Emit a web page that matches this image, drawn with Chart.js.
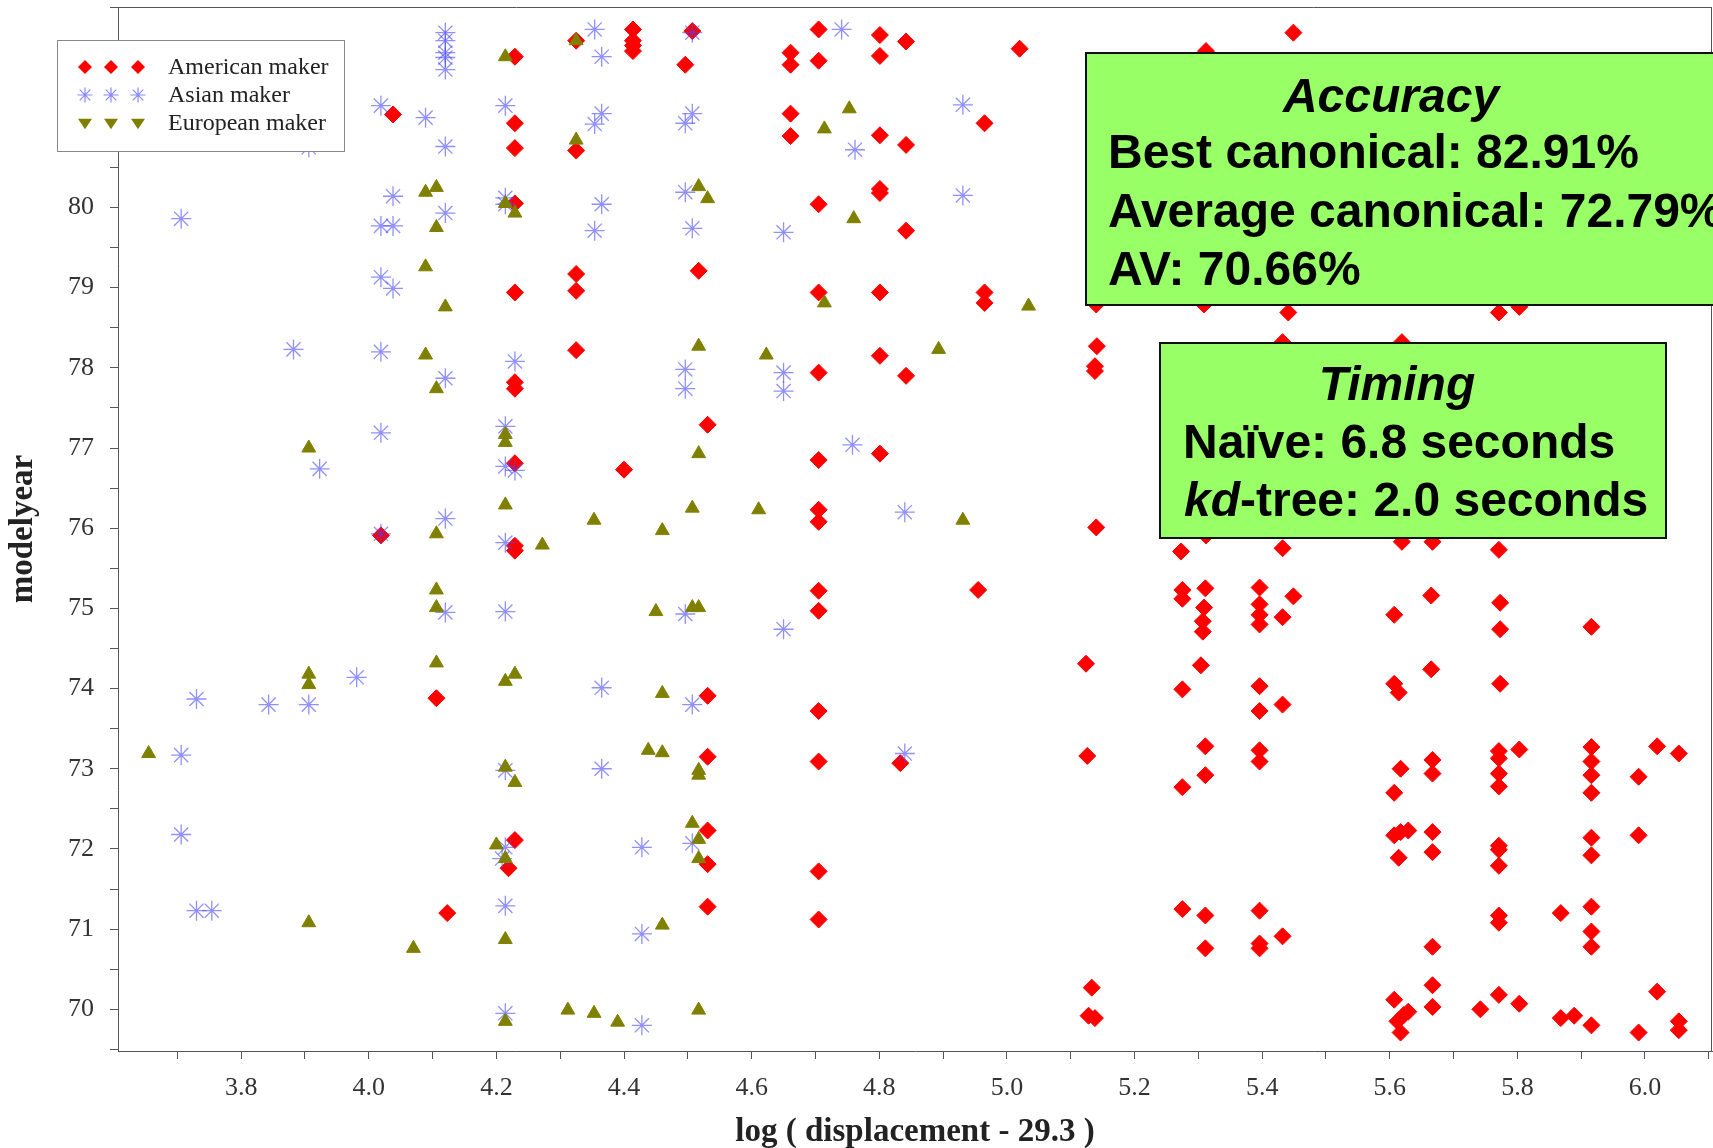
<!DOCTYPE html>
<html>
<head>
<meta charset="utf-8">
<title>modelyear vs log displacement</title>
<script src="https://cdn.jsdelivr.net/npm/chart.js"></script>
<style>
  html, body { margin: 0; padding: 0; background: #fff; }
  #wrap { width: 1713px; height: 1148px; }
</style>
</head>
<body>
<div id="wrap"><canvas id="scatter" width="1713" height="1148"></canvas></div>
<script>
// points: [log(displacement - 29.3), model year (jittered)]
var american = [
  [4.414, 82.22], [4.414, 82.08], [4.414, 82.02], [4.414, 81.95], [4.325, 82.08],
  [4.229, 81.88], [4.229, 81.05], [4.229, 80.74], [4.229, 80.05], [4.038, 81.16],
  [4.325, 80.71], [4.507, 82.2], [4.496, 81.78], [4.661, 81.93], [4.661, 81.78],
  [4.661, 81.17], [4.661, 80.89], [4.705, 82.22], [4.705, 81.83], [4.801, 82.15],
  [4.801, 81.89], [4.842, 82.07], [4.801, 80.90], [4.842, 80.78], [4.965, 81.05],
  [5.020, 81.98], [5.449, 82.18], [4.705, 80.04], [4.801, 80.23], [4.801, 80.18],
  [4.842, 79.71], [4.705, 78.94], [4.801, 78.94], [4.965, 78.94], [4.965, 78.81],
  [4.325, 79.17], [4.325, 78.96], [4.229, 78.94], [4.517, 79.21], [4.325, 78.22],
  [4.229, 77.82], [4.229, 77.74], [4.229, 76.81], [4.531, 77.29], [4.400, 76.73],
  [4.705, 77.94], [4.801, 78.15], [4.842, 77.90], [4.801, 76.93], [4.705, 76.85],
  [4.705, 76.23], [4.705, 76.08], [4.019, 75.91], [4.229, 75.78], [4.229, 75.72],
  [4.705, 75.22], [4.705, 74.97], [4.955, 75.23], [4.106, 73.88], [4.531, 73.91],
  [4.705, 73.72], [4.531, 73.15], [4.705, 73.09], [4.833, 73.07], [4.531, 72.23],
  [4.229, 72.11], [4.219, 71.76], [4.531, 71.81], [4.705, 71.72], [4.123, 71.20],
  [4.531, 71.28], [4.705, 71.12],
  [5.141, 78.27], [5.138, 78.02], [5.138, 77.96], [5.140, 76.01], [5.124, 74.31],
  [5.126, 73.16], [5.133, 70.27], [5.128, 69.92], [5.138, 69.89], [5.273, 75.71],
  [5.275, 75.23], [5.275, 75.12], [5.311, 75.25], [5.309, 75.01], [5.307, 74.84],
  [5.307, 74.71], [5.396, 75.26], [5.396, 75.05], [5.396, 74.92], [5.396, 74.80],
  [5.449, 75.15], [5.432, 74.89], [5.432, 75.75], [5.304, 74.29], [5.275, 73.99],
  [5.396, 74.03], [5.432, 73.80], [5.396, 73.72], [5.311, 73.28], [5.311, 72.92],
  [5.275, 72.77], [5.396, 73.23], [5.396, 73.09], [5.275, 71.25], [5.311, 71.17],
  [5.311, 70.76], [5.396, 71.23], [5.396, 70.82], [5.396, 70.76], [5.432, 70.91],
  [5.312, 75.91],
  [5.607, 74.92], [5.665, 75.16], [5.665, 74.24], [5.607, 74.06], [5.614, 73.95],
  [5.773, 75.07], [5.773, 74.74], [5.773, 74.06], [5.916, 74.77], [5.617, 73.00],
  [5.607, 72.70], [5.667, 73.11], [5.667, 72.94], [5.771, 73.22], [5.771, 73.13],
  [5.771, 72.94], [5.771, 72.78], [5.803, 73.24], [5.916, 73.27], [5.916, 73.09],
  [5.916, 72.92], [5.916, 72.70], [5.990, 72.90], [6.019, 73.28], [6.053, 73.19],
  [5.607, 72.17], [5.617, 72.21], [5.629, 72.23], [5.614, 71.89], [5.667, 72.21],
  [5.667, 71.96], [5.771, 72.04], [5.771, 71.99], [5.771, 71.79], [5.916, 72.14],
  [5.916, 71.92], [5.990, 72.17], [5.771, 71.17], [5.771, 71.08], [5.868, 71.20],
  [5.916, 71.28], [5.916, 70.97], [5.916, 70.78], [5.667, 70.78], [5.607, 70.12],
  [5.617, 69.71], [5.622, 69.93], [5.629, 69.97], [5.612, 69.85], [5.667, 70.30],
  [5.667, 70.03], [5.742, 70.00], [5.771, 70.18], [5.803, 70.07], [5.868, 69.89],
  [5.889, 69.92], [5.916, 69.80], [5.990, 69.71], [6.019, 70.22], [6.053, 69.85],
  [6.053, 69.74],
  [5.312, 81.95], [5.140, 78.79], [5.309, 78.79], [5.432, 78.32], [5.619, 78.32],
  [5.441, 78.69], [5.771, 78.69], [5.803, 78.76], [5.619, 75.83], [5.667, 75.83],
  [5.771, 75.73]
];

var asian = [
  [4.120, 82.18], [4.120, 82.08], [4.120, 81.93], [4.120, 81.87], [4.120, 81.72],
  [4.354, 82.22], [4.365, 81.88], [4.507, 82.18], [4.741, 82.22], [4.019, 81.27],
  [4.089, 81.12], [4.120, 80.76], [4.214, 81.27], [4.365, 81.17], [4.354, 81.04],
  [4.507, 81.17], [4.496, 81.05], [4.762, 80.72], [4.931, 81.28], [3.906, 80.75],
  [3.706, 79.86], [4.214, 80.12], [4.214, 80.04], [4.038, 80.14], [4.120, 79.93],
  [4.019, 79.77], [4.038, 79.77], [4.365, 80.04], [4.354, 79.71], [4.496, 80.19],
  [4.507, 79.74], [4.650, 79.69], [4.931, 80.15], [4.019, 79.13], [4.038, 78.99],
  [3.882, 78.23], [4.019, 78.20], [4.120, 77.87], [4.229, 78.08], [4.496, 77.98],
  [4.496, 77.74], [4.650, 77.94], [4.650, 77.71], [4.019, 77.19], [4.214, 77.27],
  [3.923, 76.74], [4.214, 76.77], [4.229, 76.72], [4.758, 77.04], [4.019, 75.93],
  [4.120, 76.12], [4.214, 75.82], [4.840, 76.20], [4.120, 74.95], [4.214, 74.96],
  [4.496, 74.93], [4.650, 74.74], [3.730, 73.87], [3.843, 73.80], [3.906, 73.80],
  [3.981, 74.14], [4.365, 74.01], [4.507, 73.80], [3.706, 73.17], [4.214, 72.98],
  [4.365, 73.00], [4.840, 73.19], [3.706, 72.18], [3.730, 71.23], [3.754, 71.23],
  [4.214, 71.29], [4.214, 72.02], [4.209, 71.88], [4.428, 72.02], [4.507, 72.07],
  [4.428, 70.94], [4.214, 69.95], [4.428, 69.80]
];

var european = [
  [4.214, 81.88], [4.325, 82.08], [4.325, 80.84], [4.753, 81.23], [4.714, 80.98],
  [4.089, 80.19], [4.106, 80.25], [4.106, 79.75], [4.214, 80.05], [4.229, 79.93],
  [4.517, 80.26], [4.531, 80.11], [4.760, 79.86], [4.089, 79.26], [4.120, 78.76],
  [4.714, 78.81], [5.034, 78.77], [4.517, 78.27], [4.623, 78.16], [4.893, 78.23],
  [4.089, 78.16], [4.106, 77.74], [3.906, 77.00], [4.214, 77.17], [4.214, 77.07],
  [4.517, 76.93], [4.214, 76.29], [4.353, 76.10], [4.272, 75.79], [4.106, 75.93],
  [4.460, 75.97], [4.507, 76.25], [4.611, 76.23], [4.931, 76.10], [4.106, 75.23],
  [4.106, 75.01], [4.450, 74.96], [4.507, 75.01], [4.517, 75.01], [4.106, 74.32],
  [3.906, 74.18], [3.906, 74.05], [4.214, 74.09], [4.229, 74.18], [4.460, 73.94],
  [3.655, 73.19], [4.438, 73.23], [4.460, 73.20], [4.517, 72.98], [4.517, 72.92],
  [4.214, 73.02], [4.229, 72.83], [4.507, 72.32], [4.517, 72.12], [4.200, 72.05],
  [4.214, 71.88], [4.517, 71.88], [3.906, 71.08], [4.460, 71.05], [4.214, 70.87],
  [4.070, 70.76], [4.214, 69.85], [4.312, 69.99], [4.353, 69.95], [4.390, 69.84],
  [4.517, 69.99]
];

var seriesNames = ['American maker', 'Asian maker', 'European maker'];
var xTickLabels = ['3.8', '4.0', '4.2', '4.4', '4.6', '4.8', '5.0', '5.2', '5.4', '5.6', '5.8', '6.0'];
var yTickLabels = ['70', '71', '72', '73', '74', '75', '76', '77', '78', '79', '80'];

var accuracyTitle = 'Accuracy';
var accuracyLines = ['Best canonical: 82.91%', 'Average canonical: 72.79%', 'AV: 70.66%'];
var timingTitle = 'Timing';
var timingLines = ['Naïve: 6.8 seconds', '-tree: 2.0 seconds'];

function toXY(list) {
  return list.map(function (p) { return { x: p[0], y: p[1] }; });
}

function marker(ctx, kind, x, y, r) {
  ctx.save();
  ctx.beginPath();
  if (kind === 'diamond') {
    ctx.fillStyle = '#ff0000';
    ctx.moveTo(x, y - r); ctx.lineTo(x + r, y); ctx.lineTo(x, y + r); ctx.lineTo(x - r, y);
    ctx.closePath(); ctx.fill();
  } else if (kind === 'star') {
    ctx.strokeStyle = 'rgba(60,60,255,0.6)';
    ctx.lineWidth = 1.2;
    for (var i = 0; i < 4; i++) {
      var a = i * Math.PI / 4;
      ctx.moveTo(x - Math.cos(a) * r, y - Math.sin(a) * r);
      ctx.lineTo(x + Math.cos(a) * r, y + Math.sin(a) * r);
    }
    ctx.stroke();
  } else {
    ctx.fillStyle = '#808000';
    ctx.moveTo(x - r, y - r * 0.6); ctx.lineTo(x + r, y - r * 0.6); ctx.lineTo(x, y + r * 0.9);
    ctx.closePath(); ctx.fill();
  }
  ctx.restore();
}

var overlays = {
  id: 'overlays',
  afterDraw: function (chart) {
    var ctx = chart.ctx;
    var a = chart.chartArea;
    ctx.save();
    // frame: top and right edges
    ctx.strokeStyle = '#555';
    ctx.lineWidth = 1;
    ctx.beginPath();
    ctx.moveTo(a.left, a.top + 0.5); ctx.lineTo(a.right, a.top + 0.5);
    ctx.moveTo(a.right - 0.5, a.top); ctx.lineTo(a.right - 0.5, a.bottom);
    ctx.stroke();

    // legend box
    ctx.fillStyle = '#fff';
    ctx.fillRect(57, 40, 287, 111);
    ctx.strokeStyle = '#888';
    ctx.strokeRect(57.5, 40.5, 287, 111);
    var kinds = ['diamond', 'star', 'triangle'];
    var sizes = [7, 7.5, 7];
    ctx.font = '24px "Liberation Serif"';
    ctx.textBaseline = 'middle';
    for (var i = 0; i < 3; i++) {
      var yy = 67 + i * 28;
      [85, 111, 138].forEach(function (xx) { marker(ctx, kinds[i], xx, yy, sizes[i]); });
      ctx.fillStyle = '#222';
      ctx.fillText(seriesNames[i], 168, yy + 1);
    }

    // green annotation boxes
    ctx.fillStyle = '#99ff66';
    ctx.strokeStyle = '#111';
    ctx.lineWidth = 2;
    ctx.fillRect(1086, 53, 700, 252);
    ctx.strokeRect(1086, 53, 700, 252);
    ctx.fillRect(1160, 343, 506, 195);
    ctx.strokeRect(1160, 343, 506, 195);

    ctx.fillStyle = '#000';
    ctx.textBaseline = 'alphabetic';
    ctx.textAlign = 'center';
    ctx.font = 'italic bold 48px "Liberation Sans"';
    ctx.fillText(accuracyTitle, 1391, 112);
    ctx.fillText(timingTitle, 1397, 400);
    ctx.textAlign = 'left';
    ctx.font = 'bold 48px "Liberation Sans"';
    ctx.fillText(accuracyLines[0], 1108, 168);
    ctx.fillText(accuracyLines[1], 1108, 227);
    ctx.fillText(accuracyLines[2], 1108, 285);
    ctx.fillText(timingLines[0], 1183, 458);
    ctx.font = 'italic bold 48px "Liberation Sans"';
    ctx.fillText('kd', 1184, 516);
    var w = ctx.measureText('kd').width;
    ctx.font = 'bold 48px "Liberation Sans"';
    ctx.fillText(timingLines[1], 1184 + w, 516);
    ctx.restore();
  }
};

var tickFont = { family: 'Liberation Serif', size: 26 };
var titleFont = { family: 'Liberation Serif', size: 33, weight: 'bold', lineHeight: 0.95 };

new Chart(document.getElementById('scatter').getContext('2d'), {
  type: 'scatter',
  data: {
    datasets: [{
      label: seriesNames[0],
      data: toXY(american),
      pointStyle: 'rectRot',
      pointRadius: 8.5,
      backgroundColor: '#ff0000',
      borderColor: '#ff0000',
      borderWidth: 1,
      order: 3
    }, {
      label: seriesNames[1],
      data: toXY(asian),
      pointStyle: 'star',
      pointRadius: 10,
      backgroundColor: 'rgba(0,0,0,0)',
      borderColor: 'rgba(70,70,255,0.6)',
      borderWidth: 1.3,
      order: 2
    }, {
      label: seriesNames[2],
      data: toXY(european),
      pointStyle: 'triangle',
      pointRadius: 8,
      backgroundColor: '#808000',
      borderColor: '#808000',
      borderWidth: 1,
      order: 1
    }]
  },
  options: {
    responsive: false,
    animation: false,
    events: [],
    layout: { autoPadding: false, padding: { top: 7, right: 1, left: 0, bottom: 0 } },
    plugins: { legend: { display: false }, tooltip: { enabled: false } },
    scales: {
      x: {
        type: 'linear',
        min: 3.607,
        max: 6.105,
        afterFit: function (s) { s.height = 97; s.paddingLeft = 0; s.paddingRight = 0; },
        border: { color: '#555', width: 1 },
        grid: { drawOnChartArea: false, drawTicks: true, tickLength: 8, color: '#555' },
        ticks: {
          stepSize: 0.1,
          includeBounds: false,
          autoSkip: false,
          maxRotation: 0,
          padding: 14,
          color: '#333',
          font: tickFont,
          callback: function (v) {
            var s = Number(v).toFixed(1);
            return xTickLabels.indexOf(s) >= 0 ? s : '';
          }
        },
        title: {
          display: true,
          text: 'log ( displacement - 29.3 )',
          color: '#222',
          font: titleFont,
          padding: { top: 0, bottom: 0 }
        }
      },
      y: {
        type: 'linear',
        min: 69.48,
        max: 82.5,
        afterFit: function (s) { s.width = 118; s.paddingTop = 0; s.paddingBottom = 0; },
        border: { color: '#555', width: 1 },
        grid: { drawOnChartArea: false, drawTicks: true, tickLength: 8, color: '#555' },
        ticks: {
          stepSize: 0.5,
          includeBounds: false,
          autoSkip: false,
          padding: 16,
          color: '#333',
          font: tickFont,
          callback: function (v) {
            var s = String(Math.round(v));
            return Math.abs(v - Math.round(v)) < 1e-6 && yTickLabels.indexOf(s) >= 0 ? s : '';
          }
        },
        title: {
          display: true,
          text: 'modelyear',
          color: '#222',
          font: titleFont,
          padding: { top: 8, bottom: 0 }
        }
      }
    }
  },
  plugins: [overlays]
});
</script>
</body>
</html>
